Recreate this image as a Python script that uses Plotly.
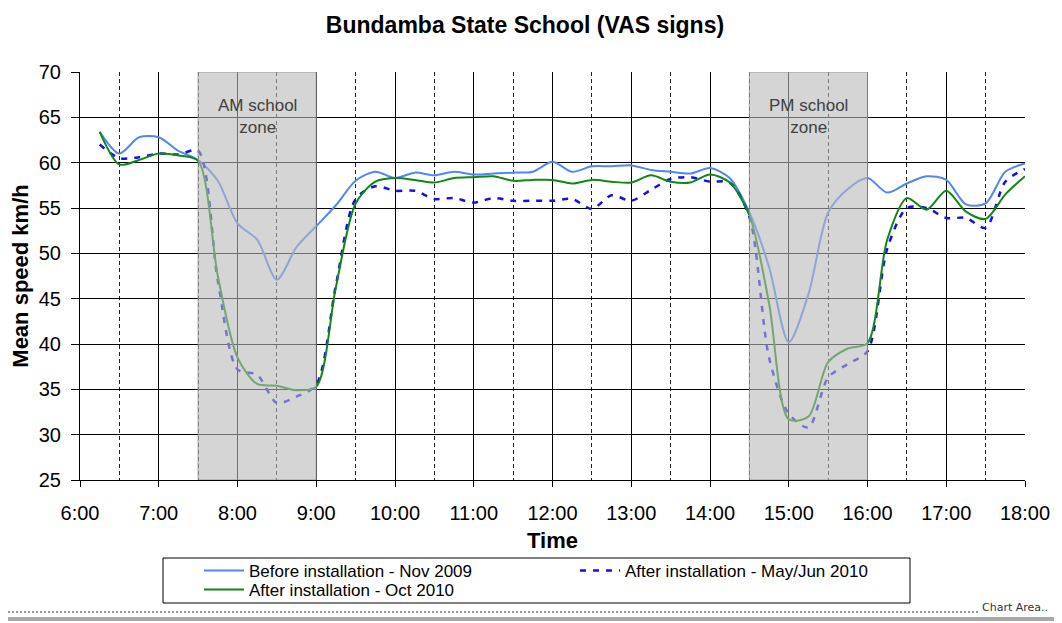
import plotly.graph_objects as go

times = ["6:15","6:30","6:45","7:00","7:15","7:30","7:45","8:00","8:15","8:30","8:45","9:00",
         "9:15","9:30","9:45","10:00","10:15","10:30","10:45","11:00","11:15","11:30","11:45","12:00",
         "12:15","12:30","12:45","13:00","13:15","13:30","13:45","14:00","14:15","14:30","14:45","15:00",
         "15:15","15:30","15:45","16:00","16:15","16:30","16:45","17:00","17:15","17:30","17:45","18:00"]

before_nov2009 = [63.4,61.0,62.8,62.8,61.3,60.3,58.0,53.3,51.5,47.1,50.7,53.0,
                  55.3,58.0,59.0,58.3,58.9,58.6,59.0,58.7,58.8,58.9,59.0,60.1,
                  59.0,59.6,59.6,59.7,59.2,59.0,58.8,59.4,58.3,54.5,48.5,40.2,
                  45.5,54.5,57.1,58.3,56.7,57.7,58.5,58.1,55.4,55.5,59.0,59.9]

after_mayjun2010 = [62.0,60.5,60.6,61.0,60.9,61.3,47.0,37.2,36.6,33.5,34.2,35.5,
                    46.5,56.0,57.4,56.9,56.9,56.0,56.1,55.6,56.1,55.8,55.8,55.8,
                    56.0,54.9,56.4,55.8,57.0,58.2,58.4,57.9,57.8,54.0,38.5,32.3,
                    30.8,36.3,37.8,39.2,50.5,55.0,55.0,53.9,53.9,52.8,57.9,59.3]

after_oct2010 = [63.4,59.8,60.3,61.0,60.8,60.2,47.5,38.5,35.6,35.4,34.9,35.3,
                 46.3,55.5,57.9,58.3,58.1,57.8,58.3,58.4,58.5,58.0,58.1,58.1,
                 57.7,58.1,57.9,57.8,58.6,57.9,57.8,58.7,57.8,54.2,44.5,31.7,
                 32.0,38.0,39.5,40.1,51.5,56.1,54.8,56.9,54.6,53.8,56.5,58.5]

hour_ticks = [6,7,8,9,10,11,12,13,14,15,16,17,18]
hour_labels = ["6:00","7:00","8:00","9:00","10:00","11:00","12:00","13:00","14:00","15:00","16:00","17:00","18:00"]
zones = [(7.5, 9.0, "AM school<br>zone"), (14.5, 16.0, "PM school<br>zone")]

FONT = "Liberation Sans, Arial, sans-serif"

def to_h(t):
    h, m = t.split(":")
    return int(h) + int(m) / 60.0

x = [to_h(t) for t in times]

fig = go.Figure()
fig.add_trace(go.Scatter(x=x, y=before_nov2009, mode="lines", name="Before installation - Nov 2009",
                         legend="legend",
                         line=dict(color="#5087F8", width=2, shape="spline", smoothing=0.8)))
fig.add_trace(go.Scatter(x=x, y=after_mayjun2010, mode="lines", name="After installation - May/Jun 2010",
                         legend="legend",
                         line=dict(color="#1010EE", width=2.5, dash="6px,7px", shape="spline", smoothing=0.8)))
fig.add_trace(go.Scatter(x=x, y=after_oct2010, mode="lines", name="After installation - Oct 2010",
                         legend="legend2",
                         line=dict(color="#118811", width=2, shape="spline", smoothing=0.8)))

for x0, x1, label in zones:
    fig.add_shape(type="rect", xref="x", yref="y", x0=x0, x1=x1, y0=25, y1=70,
                  fillcolor="rgba(185,185,185,0.6)", line=dict(color="rgba(140,140,140,0.8)", width=1),
                  layer="above")
    fig.add_annotation(x=(x0 + x1) / 2, y=67.6, xref="x", yref="y", text=label, showarrow=False,
                       yanchor="top", font=dict(family=FONT, size=17, color="#404040"))

# page has an 8px body margin, so the figure starts at screen px (8, 8)
W, H = 1054, 615

def px_x(p):   # screen px -> paper x (plot area 945 px wide from screen x=80)
    return (p - 80) / 945.0

def px_y(p):   # screen px -> paper y (plot area 408 px tall from screen y=72)
    return (480 - p) / 408.0

def cx(p):     # screen px -> container x
    return (p - 8) / W

def cy(p):     # screen px -> container y
    return 1 - (p - 8) / H

fig.add_shape(type="rect", xref="paper", yref="paper", x0=px_x(163), x1=px_x(910), y0=px_y(558), y1=px_y(603),
              line=dict(color="black", width=1), fillcolor="rgba(0,0,0,0)")

# chart-area decorations at the bottom
fig.add_shape(type="line", xref="paper", yref="paper", x0=px_x(0), x1=px_x(980), y0=px_y(612), y1=px_y(612),
              line=dict(color="#333333", width=1, dash="2px,2px"))
fig.add_shape(type="line", xref="paper", yref="paper", x0=px_x(0), x1=px_x(1062), y0=px_y(619), y1=px_y(619),
              line=dict(color="#a8a8a8", width=4))
fig.add_annotation(x=px_x(1050), y=px_y(607), xref="paper", yref="paper", text="Chart Area..", showarrow=False,
                   xanchor="right", yanchor="middle", font=dict(family="DejaVu Sans, sans-serif", size=11, color="#333333"))

legend_common = dict(orientation="h", xref="container", yref="container", xanchor="left", yanchor="top",
                     borderwidth=0, entrywidth=321, entrywidthmode="pixels",
                     font=dict(size=17), itemwidth=40, tracegroupgap=0, bgcolor="rgba(0,0,0,0)")

fig.update_layout(
    width=W, height=H,
    margin=dict(l=72, r=37, t=64, b=143, pad=0),
    paper_bgcolor="white", plot_bgcolor="white",
    font=dict(family=FONT, size=18, color="black"),
    title=dict(text="<b>Bundamba State School (VAS signs)</b>", x=0.4905, xanchor="center",
               y=0.972, yanchor="middle", font=dict(size=23)),
    showlegend=True,
    legend=dict(x=cx(199), y=cy(553), **legend_common),
    legend2=dict(x=cx(199), y=cy(572), **legend_common),
    xaxis=dict(range=[6, 18], tickvals=hour_ticks, ticktext=hour_labels, automargin=False,
               showgrid=True, gridcolor="black", gridwidth=1,
               minor=dict(dtick=0.5, tick0=6, showgrid=True, gridcolor="#222222", griddash="4px,3px", gridwidth=1),
               showline=True, linecolor="black", linewidth=1, ticks="outside", ticklen=6, tickcolor="black",
               ticklabelstandoff=9,
               zeroline=False, title=dict(text="<b>Time</b>", font=dict(size=22), standoff=10),
               tickfont=dict(size=20)),
    yaxis=dict(range=[25, 70], dtick=5, showgrid=True, gridcolor="black", gridwidth=1, automargin=False,
               showline=True, linecolor="black", linewidth=1, ticks="outside", ticklen=8, tickcolor="black",
               ticklabelstandoff=6,
               zeroline=False, title=dict(text="<b>Mean speed km/h</b>", font=dict(size=22), standoff=10),
               tickfont=dict(size=20)),
)

fig.write_html("out.html")
